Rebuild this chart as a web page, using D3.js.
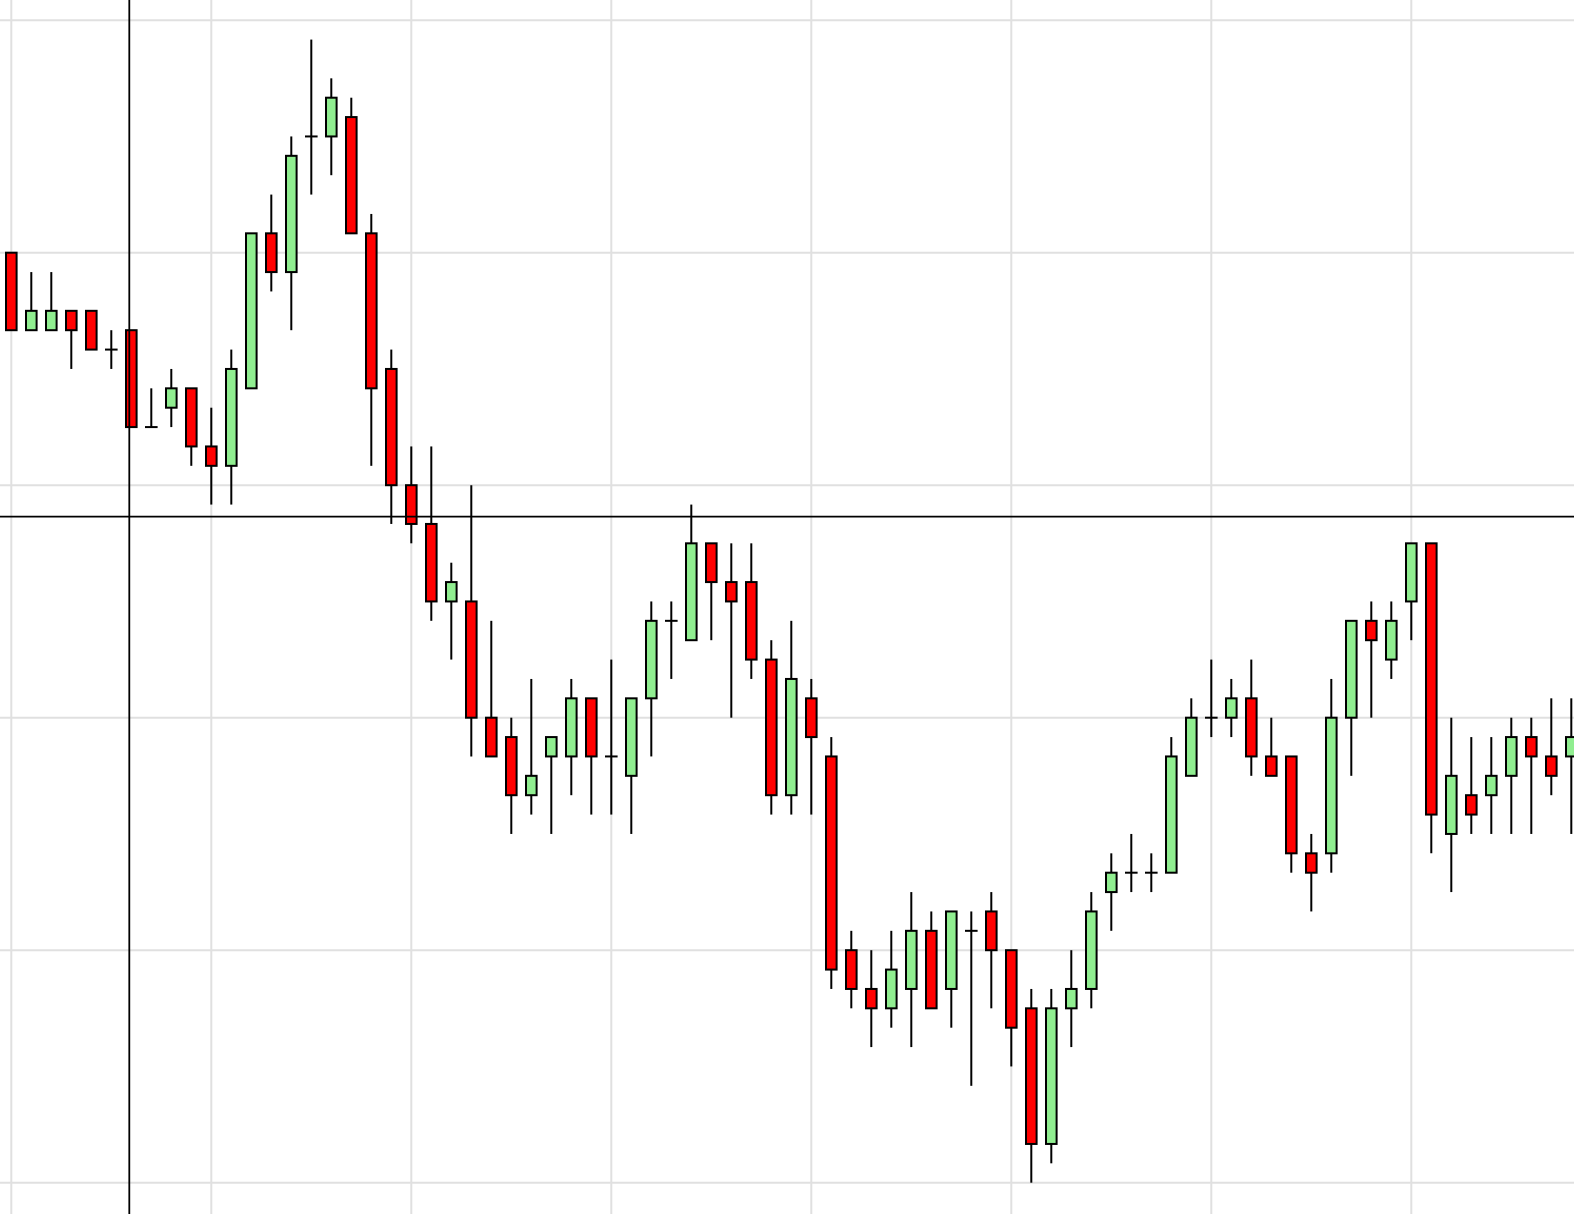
<!DOCTYPE html>
<html>
<head>
<meta charset="utf-8">
<title>Candlestick chart</title>
<script src="https://cdn.jsdelivr.net/npm/d3@7"></script>
<style>
    html, body { margin: 0; padding: 0; background: #fff; overflow: hidden; }
    svg { display: block; }
</style>
</head>
<body>
<div id="chart"></div>
<script>
// Price values in chart units (one unit = one price step)
const opens  = [48,44,44,45,45,43,44,39,40,41,38,37,41,49,47,54,54,55,49,42,36,34,30,30,24,23,20,22,22,25,22,21,25,29,28,33,31,31,27,20,25,22,12,10,9,10,13,10,13,14,12,9,2,9,10,15,16,16,16,21,24,24,25,22,22,17,17,24,29,27,30,33,18,20,20,21,23,22,22];
const highs  = [48,47,47,45,45,44,44,41,42,41,40,43,49,51,54,59,57,56,50,43,38,38,32,36,29,24,26,23,26,25,27,25,30,30,35,33,33,33,28,29,26,23,13,12,13,15,14,14,14,15,12,10,10,12,15,17,18,17,23,25,27,26,27,24,22,18,26,29,30,30,33,33,24,23,23,24,24,25,25];
const lows   = [44,44,44,42,43,42,39,39,39,37,35,35,41,46,44,51,52,49,37,34,33,29,27,22,22,18,19,18,20,19,19,18,22,26,28,28,24,26,19,19,19,10,9,7,8,7,9,8,5,9,6,0,1,7,9,13,15,15,16,21,23,23,21,21,16,14,16,21,24,26,28,17,15,18,18,18,18,20,18];
const closes = [44,45,45,44,43,43,39,39,41,38,37,42,49,47,53,54,56,49,41,36,34,30,31,24,22,20,21,23,25,22,22,25,29,29,33,31,30,27,20,26,23,11,10,9,11,13,9,14,13,12,8,2,9,10,14,16,16,16,22,24,24,25,22,21,17,16,24,29,28,29,33,19,21,19,21,23,22,21,23];

// Grid positions (bar index / price) and the crosshair position
const gridBars = [0, 10, 20, 30, 40, 50, 60, 70];
const gridPrices = [0, 12, 24, 36, 48, 60];
const crosshairBar = 5.9;
const crosshairPrice = 34.38;

const width = 1574;
const height = 1214;

const candles = opens.map((o, i) => ({
    i: i,
    open: o,
    high: highs[i],
    low: lows[i],
    close: closes[i]
}));

const svg = d3.select("#chart")
    .append("svg")
    .attr("width", width)
    .attr("height", height)
    .attr("viewBox", `0 0 ${width} ${height}`);

// Scales: bar index -> x, price -> y
const x = d3.scaleLinear()
    .domain([0, 78])
    .range([11.3, 1571.3]);

const y = d3.scaleLinear()
    .domain([0, 60])
    .range([1182.7, 20.2]);

const bodyWidth = 10.6;

// Grid lines
const grid = svg.append("g").attr("class", "grid");

grid.selectAll(".grid-v")
    .data(gridBars)
    .enter()
    .append("line")
    .attr("class", "grid-v")
    .attr("x1", d => x(d))
    .attr("x2", d => x(d))
    .attr("y1", 0)
    .attr("y2", height)
    .attr("stroke", "#e0e0e0")
    .attr("stroke-width", 2);

grid.selectAll(".grid-h")
    .data(gridPrices)
    .enter()
    .append("line")
    .attr("class", "grid-h")
    .attr("x1", 0)
    .attr("x2", width)
    .attr("y1", d => y(d))
    .attr("y2", d => y(d))
    .attr("stroke", "#e0e0e0")
    .attr("stroke-width", 2);

// Candles
const candleGroup = svg.append("g").attr("class", "candles");

// Wicks first so the bodies sit on top
candleGroup.selectAll(".wick")
    .data(candles)
    .enter()
    .append("line")
    .attr("class", "wick")
    .attr("x1", d => x(d.i))
    .attr("x2", d => x(d.i))
    .attr("y1", d => y(d.high))
    .attr("y2", d => y(d.low))
    .attr("stroke", "#000")
    .attr("stroke-width", 2);

// Bodies for candles that moved
candleGroup.selectAll(".body")
    .data(candles.filter(d => d.open !== d.close))
    .enter()
    .append("rect")
    .attr("class", "body")
    .attr("x", d => x(d.i) - bodyWidth / 2)
    .attr("width", bodyWidth)
    .attr("y", d => y(Math.max(d.open, d.close)))
    .attr("height", d => Math.abs(y(d.open) - y(d.close)))
    .attr("fill", d => d.close > d.open ? "#90ee90" : "#ff0000")
    .attr("stroke", "#000")
    .attr("stroke-width", 2);

// Doji: open equals close, drawn as a flat tick
candleGroup.selectAll(".doji")
    .data(candles.filter(d => d.open === d.close))
    .enter()
    .append("line")
    .attr("class", "doji")
    .attr("x1", d => x(d.i) - bodyWidth / 2 - 1)
    .attr("x2", d => x(d.i) + bodyWidth / 2 + 1)
    .attr("y1", d => y(d.open))
    .attr("y2", d => y(d.open))
    .attr("stroke", "#000")
    .attr("stroke-width", 2);

// Crosshair on top
const cross = svg.append("g").attr("class", "crosshair");

cross.append("line")
    .attr("x1", x(crosshairBar))
    .attr("x2", x(crosshairBar))
    .attr("y1", 0)
    .attr("y2", height)
    .attr("stroke", "#000")
    .attr("stroke-width", 1.8);

cross.append("line")
    .attr("x1", 0)
    .attr("x2", width)
    .attr("y1", y(crosshairPrice))
    .attr("y2", y(crosshairPrice))
    .attr("stroke", "#000")
    .attr("stroke-width", 1.8);
</script>
</body>
</html>
